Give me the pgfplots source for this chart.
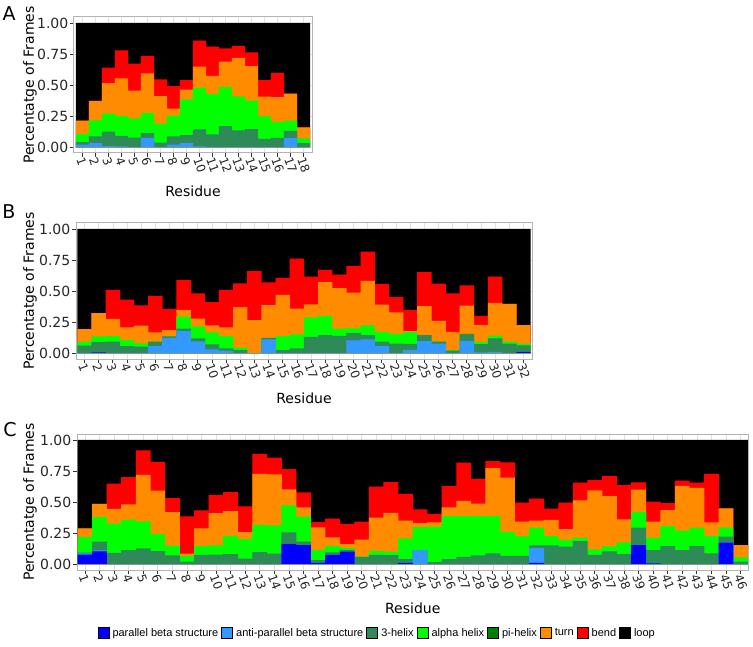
\documentclass[border=0pt]{standalone}
\usepackage{fontspec}
\setmainfont{DejaVu Sans}
\newfontfamily\legfont{Liberation Sans}
\usepackage{pgfplots}
\usepackage{pgfplotstable}
\pgfplotsset{compat=1.18}

\definecolor{cpar}{RGB}{0,0,255}
\definecolor{canti}{RGB}{51,153,255}
\definecolor{chel}{RGB}{46,139,87}
\definecolor{calp}{RGB}{0,255,0}
\definecolor{cpi}{RGB}{0,128,0}
\definecolor{ctur}{RGB}{255,140,0}
\definecolor{cben}{RGB}{255,0,0}
\definecolor{cloo}{RGB}{0,0,0}
\definecolor{framec}{RGB}{179,179,179}
\definecolor{gridc}{RGB}{225,225,225}

% cumulative tops of each layer (stack order: parallel, anti-parallel, 3-helix, alpha, turn, bend, loop)
\pgfplotstableread{
r par anti hel alp tur ben loo
1 0 0.02 0.04 0.105 0.212 0.212 1
2 0 0.032 0.085 0.215 0.372 0.372 1
3 0 0.008 0.124 0.27 0.516 0.64 1
4 0 0.005 0.09 0.252 0.554 0.78 1
5 0 0 0.075 0.232 0.455 0.672 1
6 0 0.072 0.113 0.274 0.594 0.734 1
7 0 0 0.035 0.188 0.41 0.546 1
8 0 0.02 0.086 0.253 0.31 0.49 1
9 0 0.032 0.097 0.384 0.462 0.54 1
10 0 0.005 0.142 0.478 0.648 0.857 1
11 0 0 0.102 0.427 0.573 0.81 1
12 0 0 0.169 0.484 0.688 0.796 1
13 0 0 0.134 0.409 0.718 0.815 1
14 0 0 0.145 0.374 0.653 0.763 1
15 0 0 0.065 0.25 0.406 0.54 1
16 0 0 0.073 0.2 0.403 0.597 1
17 0 0.072 0.13 0.213 0.43 0.43 1
18 0 0 0.032 0.07 0.159 0.159 1
}\tabA

\pgfplotstableread{
r par anti hel alp tur ben loo
1 0 0 0.06 0.092 0.192 0.192 1
2 0.005 0.005 0.088 0.134 0.322 0.322 1
3 0 0 0.092 0.137 0.276 0.51 1
4 0 0 0.055 0.105 0.206 0.43 1
5 0 0 0.052 0.078 0.22 0.385 1
6 0 0.055 0.092 0.092 0.167 0.46 1
7 0 0.122 0.135 0.135 0.185 0.356 1
8 0 0.178 0.197 0.294 0.347 0.587 1
9 0 0.094 0.118 0.215 0.277 0.48 1
10 0 0.03 0.07 0.167 0.223 0.41 1
11 0 0.02 0.038 0.137 0.207 0.51 1
12 0 0 0.024 0.043 0.37 0.562 1
13 0 0 0 0 0.265 0.66 1
14 0 0.11 0.122 0.122 0.386 0.57 1
15 0 0 0.024 0.137 0.469 0.605 1
16 0 0 0.038 0.15 0.358 0.76 1
17 0 0 0.13 0.287 0.392 0.615 1
18 0 0 0.145 0.299 0.571 0.67 1
19 0 0 0.138 0.197 0.523 0.632 1
20 0 0.102 0.16 0.2 0.486 0.703 1
21 0 0.11 0.145 0.222 0.581 0.818 1
22 0 0.055 0.092 0.17 0.39 0.557 1
23 0 0 0.076 0.155 0.328 0.45 1
24 0 0.026 0.074 0.17 0.177 0.348 1
25 0 0.096 0.145 0.145 0.378 0.653 1
26 0 0.075 0.092 0.092 0.26 0.56 1
27 0 0 0.02 0.024 0.171 0.48 1
28 0 0.098 0.154 0.154 0.383 0.545 1
29 0 0.005 0.072 0.09 0.224 0.3 1
30 0 0.01 0.119 0.14 0.404 0.615 1
31 0 0 0.075 0.092 0.396 0.396 1
32 0.01 0.01 0.061 0.076 0.225 0.225 1
}\tabB

\pgfplotstableread{
r par anti hel alp tur ben loo
1 0.075 0.085 0.092 0.218 0.287 0.287 1
2 0.103 0.11 0.18 0.378 0.484 0.484 1
3 0 0 0.091 0.325 0.444 0.648 1
4 0 0 0.113 0.357 0.48 0.70 1
5 0 0 0.126 0.344 0.718 0.917 1
6 0 0 0.105 0.242 0.591 0.823 1
7 0 0 0.07 0.148 0.419 0.532 1
8 0 0 0.02 0.065 0.083 0.384 1
9 0 0 0.073 0.145 0.288 0.433 1
10 0 0 0.075 0.15 0.411 0.556 1
11 0 0 0.08 0.228 0.427 0.58 1
12 0 0 0.043 0.2 0.258 0.465 1
13 0 0 0.097 0.315 0.726 0.887 1
14 0 0 0.083 0.312 0.723 0.858 1
15 0.162 0.162 0.256 0.472 0.601 0.765 1
16 0.153 0.153 0.18 0.382 0.457 0.577 1
17 0.01 0.01 0.032 0.115 0.295 0.337 1
18 0.073 0.073 0.094 0.145 0.215 0.366 1
19 0.1 0.1 0.112 0.128 0.16 0.323 1
20 0 0 0.057 0.062 0.197 0.342 1
21 0 0 0.074 0.105 0.374 0.624 1
22 0 0 0.072 0.1 0.412 0.661 1
23 0.01 0.01 0.04 0.207 0.35 0.565 1
24 0 0.113 0.113 0.298 0.33 0.44 1
25 0 0 0.015 0.302 0.335 0.405 1
26 0 0 0.039 0.387 0.457 0.63 1
27 0 0 0.058 0.387 0.509 0.817 1
28 0 0 0.069 0.387 0.486 0.687 1
29 0 0 0.086 0.387 0.774 0.83 1
30 0 0 0.065 0.26 0.696 0.82 1
31 0 0 0.065 0.226 0.341 0.495 1
32 0.01 0.13 0.15 0.293 0.35 0.527 1
33 0 0 0.15 0.226 0.355 0.446 1
34 0 0 0.14 0.194 0.282 0.495 1
35 0 0 0.185 0.212 0.513 0.656 1
36 0 0 0.073 0.118 0.594 0.677 1
37 0 0 0.102 0.142 0.548 0.71 1
38 0 0 0.08 0.175 0.36 0.637 1
39 0.153 0.153 0.293 0.42 0.6 0.658 1
40 0.005 0.005 0.113 0.212 0.341 0.503 1
41 0 0 0.145 0.306 0.435 0.49 1
42 0 0 0.113 0.269 0.629 0.672 1
43 0 0 0.145 0.293 0.613 0.656 1
44 0 0 0.086 0.228 0.336 0.726 1
45 0.172 0.172 0.22 0.296 0.449 0.449 1
46 0 0 0.02 0.054 0.153 0.153 1
}\tabC

\pgfplotsset{
  panel/.style={
    scale only axis, height=136pt,
    ymin=-0.048, ymax=1.048,
    ytick={0,0.25,0.5,0.75,1},
    yticklabels={0.00,0.25,0.50,0.75,1.00},
    tick pos=left, tick align=outside,
    major tick length=4pt,
    axis line style={framec, line width=1pt},
    every tick/.style={black!80, line width=0.8pt},
    xmajorgrids, ymajorgrids,
    grid style={gridc, line width=0.6pt},
    /pgf/number format/assume math mode=true,
    yticklabel style={font=\fontsize{14}{14}\selectfont, text=black!85, inner sep=1.5pt},
    xticklabel style={font=\fontsize{12}{12}\selectfont, text=black!85, rotate=-70, anchor=west, inner sep=1pt, yshift=-2.5pt, xshift=-1pt},
    xlabel={Residue}, ylabel={Percentatge of Frames},
    label style={font=\fontsize{14}{14}\selectfont},
  },
  sbar/.style={ybar, bar shift=0pt, bar width=1.02, draw=none, fill=#1, forget plot},
}

\newcommand{\layers}[1]{%
  \addplot[sbar=cloo] table[x=r, y=loo] {#1};
  \addplot[sbar=cben] table[x=r, y=ben] {#1};
  \addplot[sbar=ctur] table[x=r, y=tur] {#1};
  \addplot[sbar=calp] table[x=r, y=alp] {#1};
  \addplot[sbar=chel] table[x=r, y=hel] {#1};
  \addplot[sbar=canti] table[x=r, y=anti] {#1};
  \addplot[sbar=cpar] table[x=r, y=par] {#1};
}

\begin{document}
\begin{tikzpicture}
\useasboundingbox (0,0) rectangle (753pt,-647pt);

\node[font=\fontsize{19}{19}\selectfont] at (9pt,-13.5pt) {A};
\node[font=\fontsize{19}{19}\selectfont] at (9pt,-211.5pt) {B};
\node[font=\fontsize{19}{19}\selectfont] at (10pt,-430pt) {C};

% Panel A
\begin{axis}[panel, at={(74pt,-17pt)}, anchor=north west,
  width=238pt, xmin=0.35, xmax=18.66, xtick={1,...,18},
  xlabel style={at={(axis description cs:0.5,-0.28)}, anchor=center},
  ylabel style={at={(axis description cs:-0.185,0.5)}, anchor=center}]
\layers{\tabA}
\end{axis}

% Panel B
\begin{axis}[panel, at={(76pt,-223pt)}, anchor=north west,
  width=456pt, xmin=0.4, xmax=32.6, xtick={1,...,32},
  xlabel style={at={(axis description cs:0.5,-0.29)}, anchor=center},
  ylabel style={at={(axis description cs:-0.101,0.5)}, anchor=center}]
\layers{\tabB}
\end{axis}

% Panel C
\begin{axis}[panel, at={(77pt,-434pt)}, anchor=north west,
  width=671.5pt, xmin=0.455, xmax=46.545, xtick={1,...,46},
  xlabel style={at={(axis description cs:0.5,-0.28)}, anchor=center},
  ylabel style={at={(axis description cs:-0.070,0.5)}, anchor=center},
  legend image code/.code={\fill[#1] (0pt,-5.5pt) rectangle (11pt,5.5pt);},
  legend cell align=left,
  legend style={at={(axis description cs:0.4456,-0.463)}, anchor=center,
    draw=none, fill=none, legend columns=-1,
    font=\legfont\fontsize{11}{12}\selectfont,
    nodes={inner sep=0pt},
    /tikz/every odd column/.append style={column sep=3.5pt},
    /tikz/every even column/.append style={column sep=3pt}}]
\addlegendimage{fill=cpar}\addlegendentry{parallel beta structure}
\addlegendimage{fill=canti}\addlegendentry{anti-parallel beta structure}
\addlegendimage{fill=chel}\addlegendentry{3-helix}
\addlegendimage{fill=calp}\addlegendentry{alpha helix}
\addlegendimage{fill=cpi}\addlegendentry{pi-helix}
\addlegendimage{fill=ctur}\addlegendentry{turn}
\addlegendimage{fill=cben}\addlegendentry{bend}
\addlegendimage{fill=cloo}\addlegendentry{loop}
\layers{\tabC}
\end{axis}
\end{tikzpicture}
\end{document}
